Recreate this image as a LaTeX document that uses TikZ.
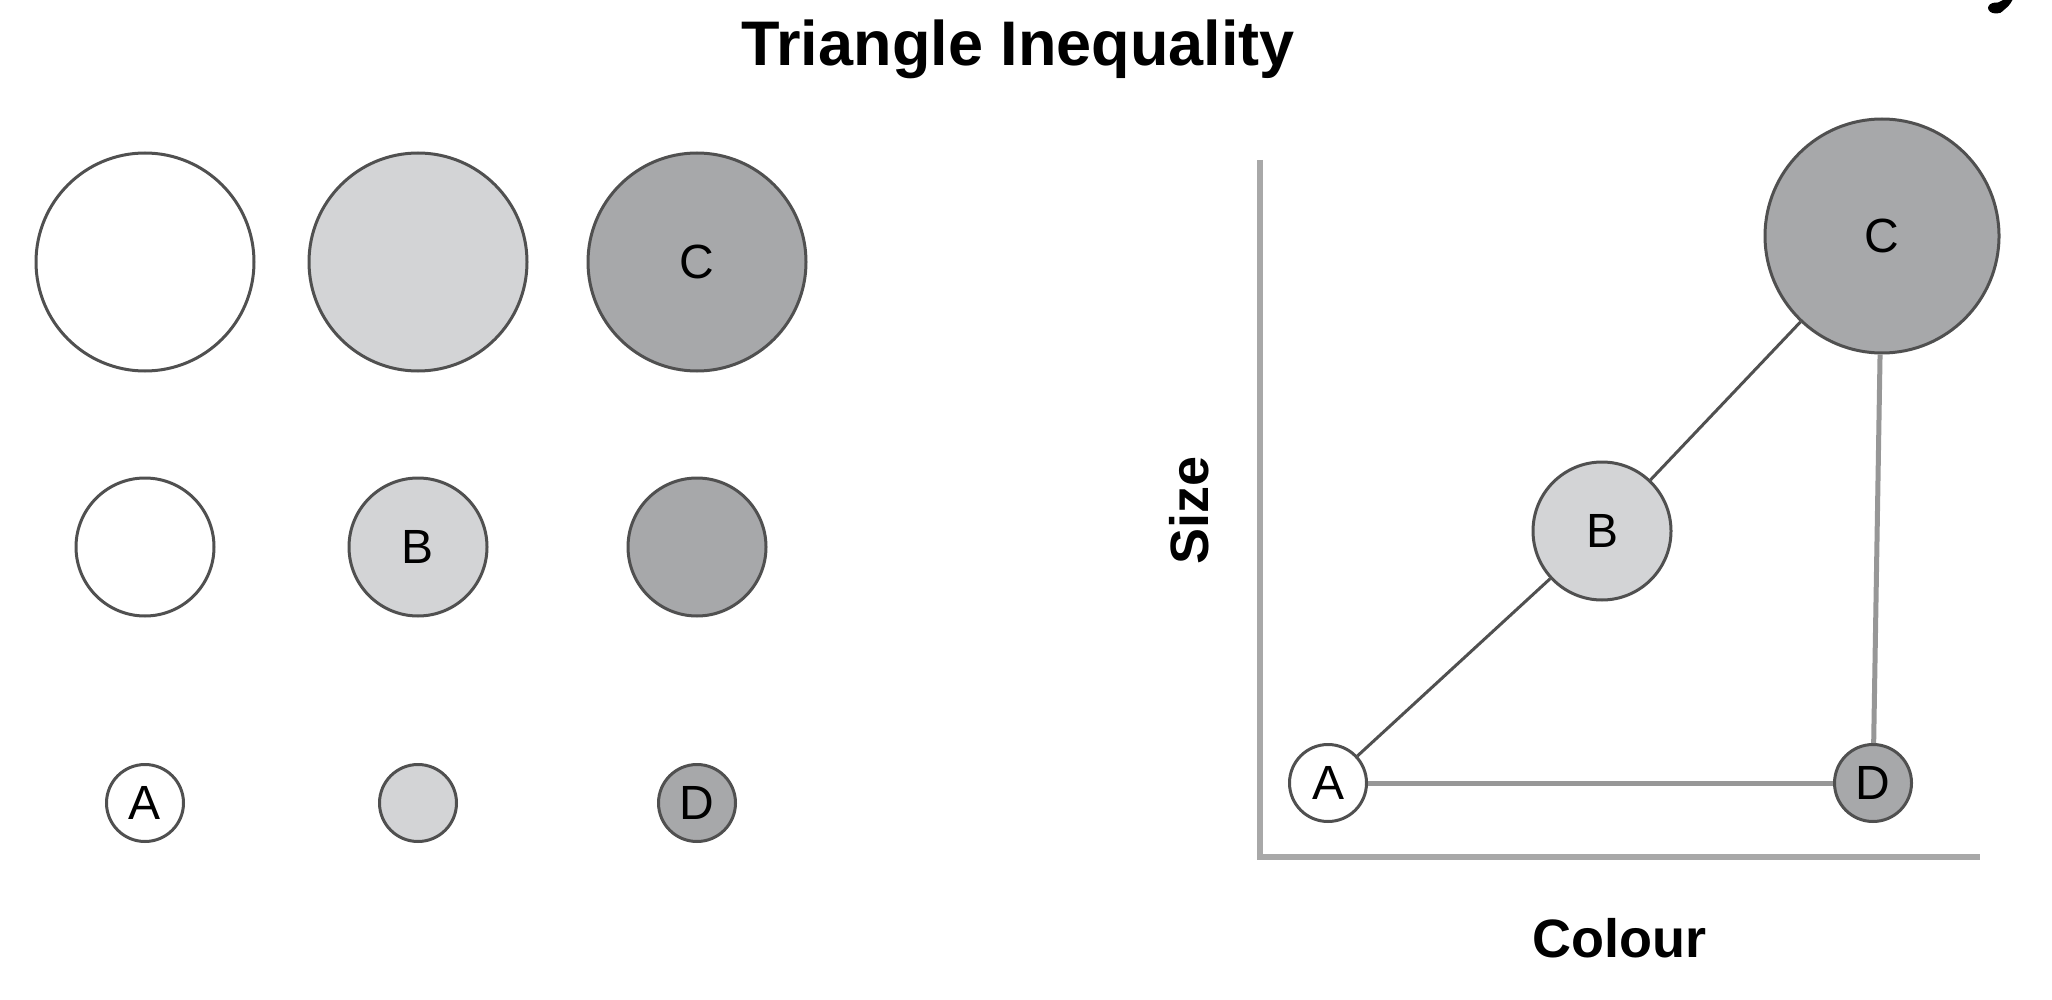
\documentclass[tikz,border=0pt]{standalone}
\usepackage{fontspec}
\setmainfont{Liberation Sans}

\definecolor{lightfill}{HTML}{D3D4D6}
\definecolor{darkfill}{HTML}{A7A8AA}
\definecolor{edgegray}{HTML}{505050}
\definecolor{axisgray}{HTML}{A8A8A8}

\tikzset{
  dot/.style={circle, draw=edgegray, line width=3pt, inner sep=0pt,
    font=\fontsize{48}{52}\selectfont},
  bigdot/.style={dot, minimum size=218pt},
  middot/.style={dot, minimum size=138pt},
  smalldot/.style={dot, minimum size=77pt},
  axislabel/.style={font=\bfseries\fontsize{54}{60}\selectfont, anchor=base},
  thinlink/.style={draw=edgegray, line width=3pt},
  thicklink/.style={draw=axisgray!90!black, line width=5pt}
}

\begin{document}
\begin{tikzpicture}[x=1pt,y=-1pt]
\useasboundingbox (0,0) rectangle (2052,1000);

\node[font=\bfseries\fontsize{63}{70}\selectfont, anchor=base] (title) at (1018,66) {Triangle Inequality};

% left: rows give the size, columns give the colour
\node[bigdot, fill=white] (big1) at (145,262) {};
\node[bigdot, fill=lightfill] (big2) at (418,262) {};
\node[bigdot, fill=darkfill] (big3) at (697,262) {C};

\node[middot, fill=white] (mid1) at (145,547) {};
\node[middot, fill=lightfill] (mid2) at (418,547) {B};
\node[middot, fill=darkfill] (mid3) at (697,547) {};

\node[smalldot, fill=white] (small1) at (145,803) {A};
\node[smalldot, fill=lightfill] (small2) at (418,803) {};
\node[smalldot, fill=darkfill] (small3) at (697,803) {D};

% right: the same four points on colour and size axes
\coordinate (ytop) at (1260,160);
\coordinate (origin) at (1260,857);
\coordinate (xend) at (1980,857);
\draw[draw=axisgray, line width=6pt] (ytop) -- (origin) -- (xend);

\node[axislabel, rotate=90] (size) at (1208,510) {Size};
\node[axislabel] (colour) at (1619,957) {Colour};

\node[smalldot, fill=white] (A) at (1328,783) {A};
\node[middot, fill=lightfill] (B) at (1602,531) {B};
\node[dot, minimum size=234pt, fill=darkfill] (C) at (1882,236) {C};
\node[smalldot, fill=darkfill] (D) at (1873,783) {D};

\draw[thinlink] (A) -- (B);
\draw[thinlink] (B) -- (C);
\draw[thicklink] (A) -- (D);
\draw[thicklink] (C) -- (D);

% tail of a letter cut off by the top edge
\fill (1996,8) ellipse [x radius=8, y radius=5.5];
\fill (1997,3) -- (2005,-1) -- (2013,-1) .. controls (2009,6) .. (2000,13) -- cycle;
\end{tikzpicture}
\end{document}
